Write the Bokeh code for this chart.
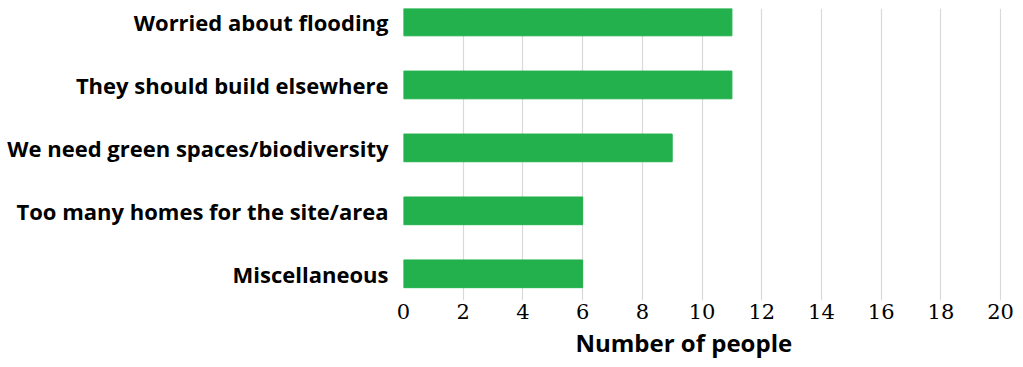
from bokeh.plotting import figure
from bokeh.models import Range1d, FixedTicker, Title
from bokeh.embed import file_html
from bokeh.resources import INLINE

categories = ["Worried about flooding", "They should build elsewhere",
              "We need green spaces/biodiversity", "Too many homes for the site/area",
              "Miscellaneous"]
counts = [11, 11, 9, 6, 6]
x_ticks = [0, 2, 4, 6, 8, 10, 12, 14, 16, 18, 20]
x_title = "Number of people"

pos = list(range(len(categories)))

p = figure(width=1023, height=367, output_backend="svg", toolbar_location=None,
           x_range=Range1d(0, 20.03), y_range=Range1d(4.424, -0.214),
           min_border_left=403, min_border_right=22, min_border_top=8, min_border_bottom=67)

p.hbar(y=pos, right=counts, left=0, height=0.44, color="#23B14D", line_color="#23B14D")

p.outline_line_color = None
p.ygrid.grid_line_color = None
p.xgrid.grid_line_color = "#d9d9d9"
p.xgrid.grid_line_width = 1.2
p.xaxis.ticker = FixedTicker(ticks=x_ticks)
p.yaxis.ticker = FixedTicker(ticks=pos)
p.yaxis.major_label_overrides = {i: c for i, c in zip(pos, categories)}

for ax in (p.xaxis, p.yaxis):
    ax.axis_line_color = None
    ax.major_tick_line_color = None
    ax.minor_tick_line_color = None
    ax.major_tick_out = 0
    ax.major_tick_in = 0

p.yaxis.major_label_text_font = "Open Sans"
p.yaxis.major_label_text_font_style = "bold"
p.yaxis.major_label_text_font_size = "22px"
p.yaxis.major_label_text_color = "black"
p.yaxis.major_label_standoff = 15

p.xaxis.major_label_text_font = "DejaVu Serif"
p.xaxis.major_label_text_font_size = "21px"
p.xaxis.major_label_text_color = "black"
p.xaxis.major_label_standoff = 3

t = Title(text=x_title, align="left", offset=172, text_font="Open Sans",
          text_font_style="bold", text_font_size="24px", text_color="black",
          standoff=4)
p.add_layout(t, "below")

open("out.html", "w").write(file_html(p, INLINE))
